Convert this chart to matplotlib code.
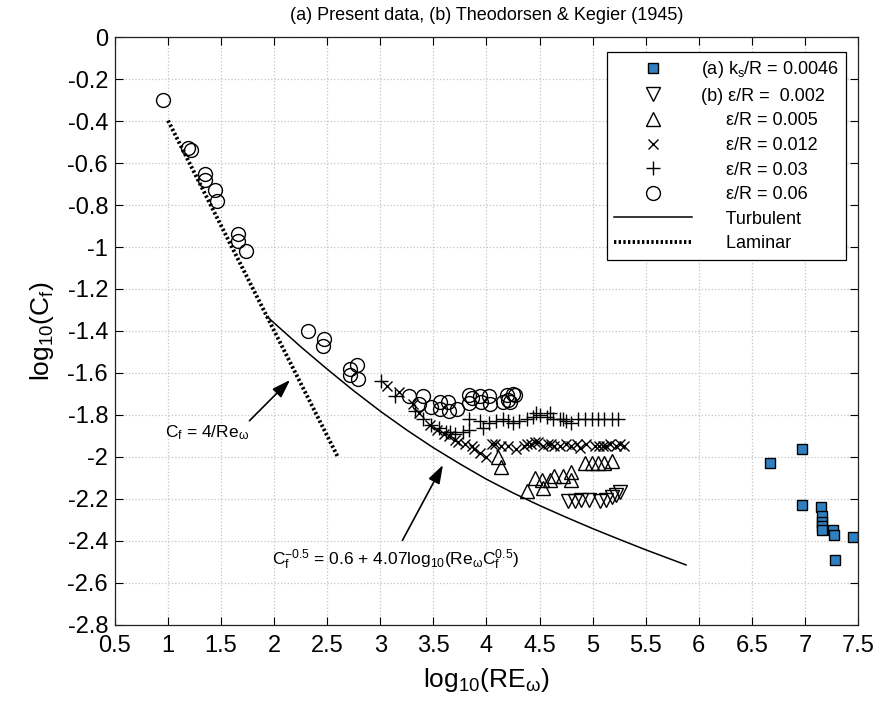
"""
Skin friction vs rotational Reynolds number: present data against
Theodorsen & Kegier (1945) rough-disk measurements, with the laminar and
turbulent reference relations.
"""

import matplotlib

matplotlib.use("Agg")
import matplotlib.pyplot as plt
from matplotlib.ticker import FuncFormatter, MultipleLocator

plt.rcParams["font.family"] = ["Liberation Sans", "DejaVu Sans"]
plt.rcParams["mathtext.fontset"] = "custom"
plt.rcParams["mathtext.rm"] = "Liberation Sans"
plt.rcParams["mathtext.it"] = "Liberation Sans"
plt.rcParams["mathtext.bf"] = "Liberation Sans:bold"
plt.rcParams["axes.unicode_minus"] = False

# --------- Data (log10 Re_w, log10 Cf) ---------

# (a) present data, ks/R = 0.0046
sq_x = [6.67, 6.97, 6.97, 7.15, 7.16, 7.16, 7.16, 7.16, 7.26, 7.27, 7.28, 7.45]
sq_y = [-2.03, -1.96, -2.23, -2.24, -2.28, -2.31, -2.33, -2.35, -2.35, -2.37, -2.49, -2.38]

# (b) Theodorsen & Kegier, eps/R = 0.002
tri_dn_x = [4.77, 4.83, 4.89, 4.97, 5.07, 5.13, 5.18, 5.22, 5.26]
tri_dn_y = [-2.21, -2.21, -2.205, -2.205, -2.21, -2.205, -2.19, -2.18, -2.165]

# eps/R = 0.005
tri_up_x = [4.11, 4.14, 4.38, 4.46, 4.53, 4.52, 4.60, 4.64, 4.72, 4.80, 4.80,
            4.93, 4.99, 5.05, 5.11, 5.18]
tri_up_y = [-2.00, -2.05, -2.16, -2.10, -2.15, -2.11, -2.11, -2.09, -2.09, -2.07, -2.11,
            -2.03, -2.03, -2.03, -2.03, -2.02]

# eps/R = 0.012
cross_x = [3.06, 3.18, 3.31, 3.36, 3.47, 3.53, 3.60, 3.65, 3.70, 3.73, 3.80, 3.86,
           3.88, 3.94, 4.00, 4.05, 4.08, 4.14, 4.20, 4.28, 4.35, 4.38, 4.42, 4.46,
           4.49, 4.53, 4.58, 4.61, 4.64, 4.69, 4.75, 4.80, 4.85, 4.88, 4.94, 5.02,
           5.06, 5.10, 5.13, 5.16, 5.22, 5.26, 5.30]
cross_y = [-1.66, -1.69, -1.75, -1.79, -1.85, -1.87, -1.89, -1.90, -1.92, -1.93, -1.94, -1.95,
           -1.96, -1.98, -2.00, -1.94, -1.94, -1.95, -1.95, -1.96, -1.95, -1.94, -1.94, -1.93,
           -1.93, -1.95, -1.94, -1.94, -1.95, -1.95, -1.94, -1.95, -1.94, -1.955, -1.94, -1.95,
           -1.95, -1.95, -1.95, -1.94, -1.95, -1.94, -1.95]

# eps/R = 0.03
plus_x = [3.01, 3.14, 3.33, 3.40, 3.48, 3.55, 3.62, 3.66, 3.70, 3.78, 3.84, 3.84,
          3.94, 3.97, 4.02, 4.09, 4.16, 4.20, 4.25, 4.31, 4.38, 4.44, 4.47, 4.50,
          4.57, 4.60, 4.63, 4.69, 4.72, 4.75, 4.80, 4.86, 4.93, 4.99, 5.05, 5.11,
          5.18, 5.24]
plus_y = [-1.64, -1.71, -1.78, -1.82, -1.85, -1.86, -1.88, -1.88, -1.89, -1.88, -1.82, -1.87,
          -1.83, -1.86, -1.84, -1.83, -1.82, -1.83, -1.84, -1.83, -1.82, -1.81, -1.79, -1.80,
          -1.81, -1.79, -1.82, -1.82, -1.82, -1.83, -1.84, -1.82, -1.82, -1.82, -1.82, -1.82,
          -1.82, -1.82]

# eps/R = 0.06
circ_x = [0.95, 1.19, 1.22, 1.35, 1.35, 1.44, 1.46, 1.66, 1.66, 1.73,
          2.32, 2.47, 2.46, 2.71, 2.78, 2.71, 2.79,
          3.27, 3.40, 3.36, 3.48, 3.56, 3.56, 3.64, 3.72, 3.65,
          3.84, 3.94, 4.02, 4.03, 3.84, 3.86, 3.95,
          4.19, 4.25, 4.20, 4.16, 4.22, 4.27]
circ_y = [-0.30, -0.53, -0.54, -0.65, -0.68, -0.73, -0.78, -0.94, -0.97, -1.02,
          -1.40, -1.44, -1.47, -1.58, -1.56, -1.61, -1.63,
          -1.71, -1.71, -1.75, -1.76, -1.77, -1.74, -1.74, -1.77, -1.78,
          -1.705, -1.71, -1.71, -1.75, -1.745, -1.72, -1.74,
          -1.705, -1.70, -1.73, -1.74, -1.74, -1.705]

# Turbulent relation Cf^-0.5 = 0.6 + 4.07 log10(Re Cf^0.5)
turb_x = [1.93, 2.00, 2.25, 2.50, 2.75, 3.00, 3.25, 3.50, 3.75, 4.00, 4.25, 4.50,
          4.75, 5.00, 5.25, 5.50, 5.88]
turb_y = [-1.330, -1.362, -1.475, -1.582, -1.685, -1.782, -1.872, -1.956, -2.033, -2.106,
          -2.171, -2.231, -2.287, -2.341, -2.392, -2.442, -2.514]

# Laminar relation Cf = 4/Re
lam_x = [1.0, 2.6]
lam_y = [-0.398, -2.0]


def tick_fmt(v, pos):
    s = f"{round(v, 2):g}"
    return "0" if s == "-0" else s


# --------- Plot ---------

fig = plt.figure(figsize=(8.79, 7.09), dpi=100)
ax = fig.add_axes([0.1308, 0.1185, 0.8453, 0.8293])

ind = "     "
ax.plot(sq_x, sq_y, ls="none", marker="s", ms=7.5, mfc="#2f7fc1", mec="k", mew=1.0,
        label="(a) k$_s$/R = 0.0046")
ax.plot(tri_dn_x, tri_dn_y, ls="none", marker="v", ms=10, mfc="none", mec="k", mew=1.0,
        label="(b) ε/R =  0.002")
ax.plot(tri_up_x, tri_up_y, ls="none", marker="^", ms=10, mfc="none", mec="k", mew=1.0,
        label=ind + "ε/R = 0.005")
ax.plot(cross_x, cross_y, ls="none", marker="x", ms=7.5, mec="k", mew=1.0,
        label=ind + "ε/R = 0.012")
ax.plot(plus_x, plus_y, ls="none", marker="+", ms=10, mec="k", mew=1.0,
        label=ind + "ε/R = 0.03")
ax.plot(circ_x, circ_y, ls="none", marker="o", ms=10, mfc="none", mec="k", mew=1.0,
        label=ind + "ε/R = 0.06")
ax.plot(turb_x, turb_y, color="k", lw=1.1, label=ind + "Turbulent")
ax.plot(lam_x, lam_y, color="k", lw=2.8, ls=(0, (0.6, 0.6)), label=ind + "Laminar")

arrow = dict(arrowstyle="-|>,head_length=0.9,head_width=0.3",
             color="k", lw=1.2, shrinkA=0, shrinkB=0)
ax.annotate("C$_f$ = 4/Re$_ω$", xy=(2.15, -1.633), xytext=(0.97, -1.885),
            fontsize=12.5, va="center", ha="left",
            arrowprops=dict(arrow, relpos=(0.95, 0.9)))
ax.annotate("C$_f^{-0.5}$ = 0.6 + 4.07log$_{10}$(Re$_ω$C$_f^{0.5}$)",
            xy=(3.59, -2.038), xytext=(1.975, -2.49),
            fontsize=12.5, va="center", ha="left",
            arrowprops=dict(arrow, relpos=(0.53, 1.3)))

ax.set_xlim(0.5, 7.5)
ax.set_ylim(-2.8, 0)
ax.xaxis.set_major_locator(MultipleLocator(0.5))
ax.yaxis.set_major_locator(MultipleLocator(0.2))
ax.xaxis.set_major_formatter(FuncFormatter(tick_fmt))
ax.yaxis.set_major_formatter(FuncFormatter(tick_fmt))
ax.tick_params(direction="in", length=6, width=0.8, top=True, right=True,
               labelsize=17)
ax.tick_params(axis="x", pad=7)
ax.tick_params(axis="y", pad=5)
ax.grid(True, color="#c4c4c4", ls=":", lw=0.9)
for s in ax.spines.values():
    s.set_linewidth(0.9)
    s.set_color("#222222")

ax.set_xlabel("log$_{10}$(RE$_ω$)", fontsize=19, labelpad=7)
ax.set_ylabel("log$_{10}$(C$_f$)", fontsize=19, labelpad=8)
ax.set_title("(a) Present data, (b) Theodorsen & Kegier (1945)", fontsize=13, pad=12)

leg = ax.legend(loc="upper right", bbox_to_anchor=(0.984, 0.9745), borderaxespad=0,
                fontsize=13, handlelength=4.3, handletextpad=0.5, labelspacing=0.42,
                borderpad=0.4, fancybox=False, framealpha=1, edgecolor="k")
leg.get_frame().set_linewidth(0.9)

fig.savefig("out.png", dpi=100)
